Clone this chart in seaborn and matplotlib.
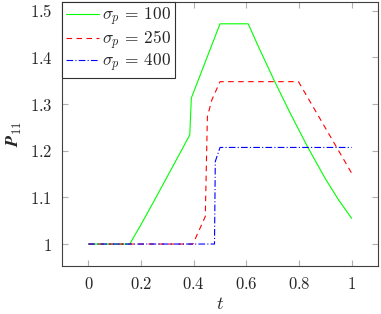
import numpy as np
import pandas as pd
import matplotlib
matplotlib.use("Agg")
import matplotlib.pyplot as plt
from matplotlib.ticker import FuncFormatter
import seaborn as sns

# sigma_p = 100
t_100 = [0, 0.157, 0.2, 0.25, 0.3, 0.35, 0.385, 0.391, 0.5, 0.607, 0.65, 0.708, 0.767, 0.832, 0.9, 0.95, 1.0]
p_100 = [1, 1, 1.042, 1.093, 1.145, 1.197, 1.234, 1.313, 1.472, 1.472, 1.418, 1.348, 1.280, 1.209, 1.140, 1.095, 1.055]
# sigma_p = 250
t_250 = [0, 0.397, 0.444, 0.452, 0.469, 0.5, 0.798, 1.0]
p_250 = [1, 1, 1.059, 1.273, 1.309, 1.348, 1.348, 1.152]
# sigma_p = 400
t_400 = [0, 0.479, 0.482, 0.5, 1.0]
p_400 = [1, 1, 1.177, 1.207, 1.207]

labels = [r"$\sigma_p\,=\,100$", r"$\sigma_p\,=\,250$", r"$\sigma_p\,=\,400$"]

sns.set_style("ticks")
plt.rcParams["mathtext.fontset"] = "cm"
plt.rcParams["font.family"] = ["serif"]
plt.rcParams["font.serif"] = ["DejaVu Serif"]

fig = plt.figure(figsize=(3.81, 3.14), dpi=100)
ax = fig.add_axes([0.163, 0.153, 0.829, 0.841])

series = [
    (t_100, p_100, labels[0], (0, 1, 0), "-"),
    (t_250, p_250, labels[1], (1, 0, 0), (0, (5, 4))),
    (t_400, p_400, labels[2], (0, 0, 1), (0, (6, 2, 1, 2))),
]
for t, p, lab, col, ls in series:
    df = pd.DataFrame({"t": t, "P": p})
    sns.lineplot(data=df, x="t", y="P", sort=False, estimator=None, ax=ax,
                 color=col, linestyle=ls, linewidth=0.8, label=lab)

ax.set_xlim(-0.1, 1.1)
ax.set_ylim(0.953, 1.519)
ax.set_xticks([0, 0.2, 0.4, 0.6, 0.8, 1.0])
ax.set_yticks([1.0, 1.1, 1.2, 1.3, 1.4, 1.5])
fmt = FuncFormatter(lambda v, pos: f"${v:g}$")
ax.xaxis.set_major_formatter(fmt)
ax.yaxis.set_major_formatter(fmt)
ax.tick_params(direction="in", color="#b0b0b0", length=4, width=0.8,
               top=True, right=True, labelsize=12, pad=7)
for s in ax.spines.values():
    s.set_color("#404040")
    s.set_linewidth(0.8)

ax.set_xlabel(r"$t$", fontsize=13, labelpad=2)
ax.set_ylabel(r"$\mathbfit{P}_{11}$", fontsize=13, labelpad=4)

leg = ax.legend(loc="upper left", fontsize=12.5, frameon=True, fancybox=False,
                borderaxespad=0.0, handlelength=1.9, handletextpad=0.15,
                labelspacing=0.0, borderpad=0.25)
leg.get_frame().set_edgecolor("#303030")
leg.get_frame().set_linewidth(0.8)
leg.get_frame().set_alpha(1)

fig.savefig("out.png", dpi=100)
